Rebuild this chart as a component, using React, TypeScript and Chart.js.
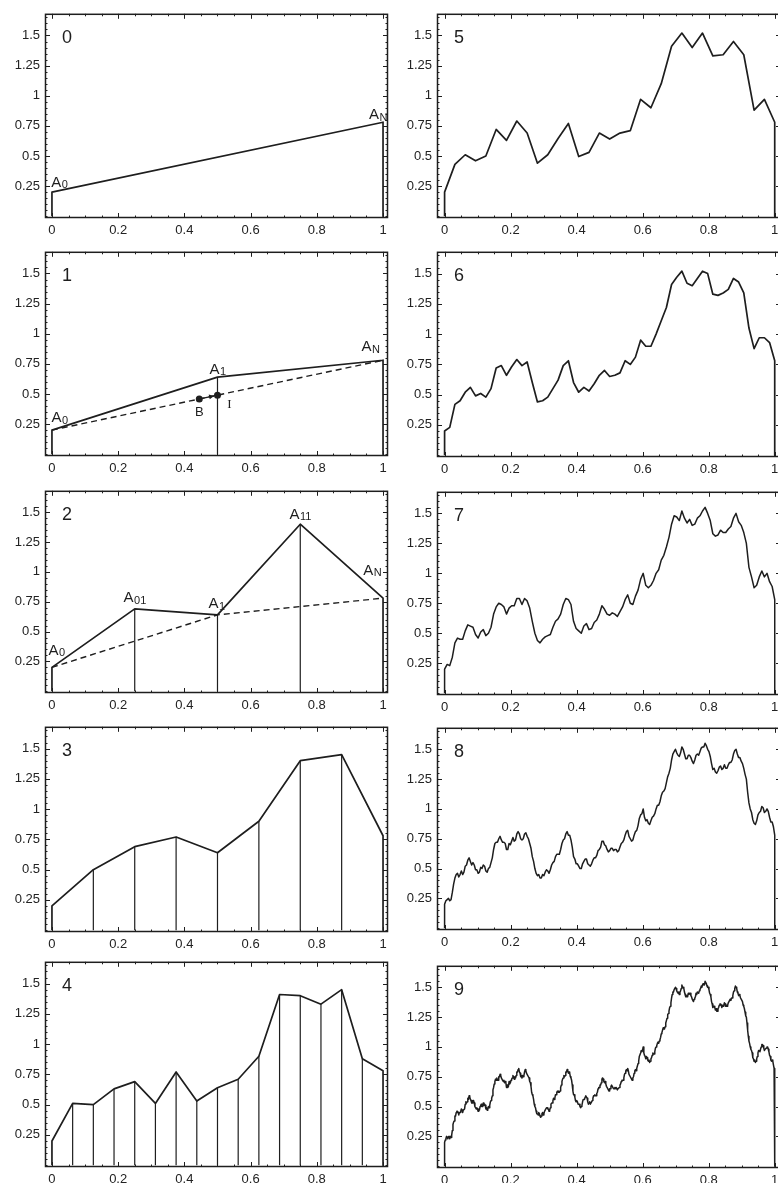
import React, { useEffect, useRef } from "react";
import { Chart, registerables } from "chart.js";

Chart.register(...registerables);

const INK = "#1e1e1e";
const SANS = '"Liberation Sans", Arial, Helvetica, sans-serif';
const SERIF = '"Liberation Serif", "Times New Roman", serif';

// Axis ticks
const xTickValues = [0, 0.2, 0.4, 0.6, 0.8, 1];
const yTickValues = [0.25, 0.5, 0.75, 1, 1.25, 1.5];

// Random midpoint displacement of a path from A0 to AN, one level per panel
const level0 = [0.2, 0.78];
const level1 = [0.2, 0.64, 0.78];
const level2 = [0.2, 0.69, 0.64, 1.4, 0.78];
const level3 = [0.2, 0.5, 0.69, 0.77, 0.64, 0.9, 1.4, 1.45, 0.78];
const level4 = [
  0.2, 0.51, 0.5, 0.63, 0.69, 0.51, 0.77, 0.53, 0.64, 0.71, 0.9, 1.41, 1.4,
  1.33, 1.45, 0.88, 0.78,
];
const level5 = [
  0.2, 0.43, 0.51, 0.46, 0.5, 0.72, 0.63, 0.79, 0.69, 0.44, 0.51, 0.645, 0.77,
  0.495, 0.53, 0.69, 0.64, 0.69, 0.71, 0.97, 0.9, 1.1, 1.41, 1.52, 1.4, 1.52,
  1.33, 1.34, 1.45, 1.34, 0.88, 0.97, 0.78,
];
const level6 = [
  0.2, 0.23, 0.42, 0.45, 0.52, 0.56, 0.49, 0.51, 0.48, 0.55, 0.72, 0.74, 0.66,
  0.73, 0.79, 0.74, 0.77, 0.6, 0.44, 0.45, 0.48, 0.55, 0.62, 0.74, 0.78, 0.6,
  0.52, 0.56, 0.53, 0.59, 0.66, 0.7, 0.65, 0.66, 0.68, 0.78, 0.75, 0.81, 0.95,
  0.9, 0.9, 1.0, 1.11, 1.22, 1.41, 1.47, 1.52, 1.42, 1.4, 1.46, 1.52, 1.5,
  1.33, 1.32, 1.34, 1.37, 1.46, 1.43, 1.34, 1.05, 0.88, 0.97, 0.97, 0.93, 0.78,
];
// New midpoints added at levels 7, 8 and 9
const level7Mid = [
  0.24, 0.3, 0.46, 0.45, 0.57, 0.55, 0.46, 0.53, 0.5, 0.66,
  0.75, 0.72, 0.71, 0.73, 0.79, 0.79, 0.71, 0.5, 0.42, 0.47,
  0.49, 0.6, 0.66, 0.79, 0.74, 0.54, 0.5, 0.58, 0.54, 0.61,
  0.73, 0.66, 0.67, 0.64, 0.72, 0.82, 0.74, 0.86, 1.0, 0.88,
  0.94, 1.03, 1.15, 1.3, 1.48, 1.44, 1.46, 1.45, 1.41, 1.48,
  1.55, 1.44, 1.31, 1.36, 1.34, 1.39, 1.5, 1.4, 1.25, 0.97,
  0.9, 1.02, 1.0, 0.89,
];
const level8Mid = [
  0.23, 0.25, 0.24, 0.37, 0.45, 0.43, 0.48, 0.47, 0.53, 0.59,
  0.53, 0.53, 0.49, 0.47, 0.5, 0.52, 0.47, 0.51, 0.59, 0.71,
  0.72, 0.77, 0.72, 0.71, 0.66, 0.7, 0.76, 0.74, 0.81, 0.75,
  0.75, 0.8, 0.75, 0.67, 0.56, 0.46, 0.45, 0.42, 0.44, 0.49,
  0.46, 0.53, 0.56, 0.62, 0.62, 0.71, 0.75, 0.81, 0.78, 0.68,
  0.58, 0.54, 0.5, 0.54, 0.58, 0.54, 0.52, 0.57, 0.59, 0.65,
  0.68, 0.73, 0.69, 0.64, 0.67, 0.65, 0.66, 0.65, 0.71, 0.74,
  0.81, 0.77, 0.73, 0.78, 0.82, 0.92, 0.96, 0.93, 0.91, 0.87,
  0.93, 0.96, 1.03, 1.06, 1.14, 1.17, 1.27, 1.34, 1.46, 1.5,
  1.45, 1.47, 1.5, 1.42, 1.45, 1.43, 1.38, 1.45, 1.45, 1.51,
  1.52, 1.53, 1.48, 1.38, 1.34, 1.3, 1.35, 1.33, 1.37, 1.34,
  1.39, 1.41, 1.49, 1.46, 1.43, 1.38, 1.29, 1.14, 1.0, 0.91,
  0.87, 0.95, 0.98, 1.01, 0.98, 0.98, 0.89, 0.85,
];
const level9Mid = [
  0.22, 0.25, 0.23, 0.25, 0.25, 0.26, 0.35, 0.38, 0.42, 0.46,
  0.45, 0.45, 0.46, 0.47, 0.47, 0.48, 0.54, 0.54, 0.56, 0.58,
  0.55, 0.53, 0.55, 0.5, 0.48, 0.48, 0.48, 0.5, 0.52, 0.5,
  0.51, 0.51, 0.49, 0.48, 0.49, 0.54, 0.57, 0.64, 0.69, 0.73,
  0.74, 0.72, 0.75, 0.76, 0.74, 0.71, 0.7, 0.7, 0.68, 0.67,
  0.69, 0.72, 0.74, 0.75, 0.75, 0.76, 0.79, 0.82, 0.78, 0.76,
  0.76, 0.76, 0.81, 0.78, 0.77, 0.74, 0.7, 0.62, 0.59, 0.52,
  0.49, 0.44, 0.43, 0.44, 0.41, 0.44, 0.43, 0.46, 0.47, 0.49,
  0.48, 0.47, 0.52, 0.53, 0.57, 0.57, 0.6, 0.63, 0.63, 0.63,
  0.68, 0.73, 0.76, 0.76, 0.79, 0.8, 0.79, 0.75, 0.72, 0.63,
  0.6, 0.55, 0.55, 0.52, 0.52, 0.49, 0.51, 0.56, 0.56, 0.59,
  0.57, 0.52, 0.54, 0.52, 0.55, 0.59, 0.6, 0.59, 0.62, 0.66,
  0.68, 0.7, 0.74, 0.71, 0.71, 0.67, 0.66, 0.63, 0.65, 0.68,
  0.67, 0.65, 0.65, 0.66, 0.65, 0.66, 0.69, 0.72, 0.72, 0.77,
  0.8, 0.8, 0.8, 0.77, 0.75, 0.72, 0.75, 0.8, 0.8, 0.84,
  0.88, 0.92, 0.97, 0.97, 0.95, 0.92, 0.92, 0.89, 0.89, 0.88,
  0.91, 0.95, 0.94, 0.99, 1.01, 1.04, 1.05, 1.08, 1.12, 1.16,
  1.15, 1.2, 1.24, 1.28, 1.33, 1.37, 1.44, 1.46, 1.48, 1.49,
  1.46, 1.46, 1.46, 1.49, 1.5, 1.49, 1.44, 1.43, 1.43, 1.44,
  1.45, 1.42, 1.4, 1.4, 1.42, 1.44, 1.46, 1.47, 1.49, 1.5,
  1.53, 1.52, 1.55, 1.51, 1.5, 1.45, 1.42, 1.36, 1.34, 1.33,
  1.32, 1.3, 1.33, 1.36, 1.35, 1.35, 1.35, 1.36, 1.35, 1.35,
  1.37, 1.4, 1.41, 1.43, 1.47, 1.51, 1.49, 1.45, 1.44, 1.41,
  1.4, 1.35, 1.32, 1.26, 1.2, 1.09, 1.03, 0.98, 0.95, 0.9,
  0.89, 0.88, 0.92, 0.97, 0.96, 1.0, 1.02, 0.99, 0.98, 0.99,
  1.0, 0.96, 0.92, 0.88, 0.88, 0.82,
];

// Each finer level keeps the previous nodes and inserts the new midpoints
function interleave(coarse: number[], mids: number[]): number[] {
  const out: number[] = [];
  coarse.forEach((v, i) => {
    out.push(v);
    if (i < mids.length) out.push(mids[i]);
  });
  return out;
}
const level7 = interleave(level6, level7Mid);
const level8 = interleave(level7, level8Mid);
const level9 = interleave(level8, level9Mid);

// Point B displaced towards the midpoint I of the chord A0-AN
const pointB = { x: 0.445, y: 0.458 };
const pointI = { x: 0.5, y: 0.49 };

type Label = { main: string; sub?: string; x: number; y: number; serif?: boolean; small?: boolean };

const labelsPanel0: Label[] = [
  { main: "A", sub: "0", x: 0.022, y: 0.28 },
  { main: "A", sub: "N", x: 0.985, y: 0.84 },
];
const labelsPanel1: Label[] = [
  { main: "A", sub: "0", x: 0.023, y: 0.3 },
  { main: "A", sub: "1", x: 0.5, y: 0.7 },
  { main: "A", sub: "N", x: 0.962, y: 0.89 },
  { main: "B", x: 0.445, y: 0.35, small: true },
  { main: "I", x: 0.536, y: 0.41, serif: true, small: true },
];
const labelsPanel2: Label[] = [
  { main: "A", sub: "0", x: 0.014, y: 0.34 },
  { main: "A", sub: "01", x: 0.25, y: 0.78 },
  { main: "A", sub: "1", x: 0.497, y: 0.73 },
  { main: "A", sub: "11", x: 0.75, y: 1.48 },
  { main: "A", sub: "N", x: 0.967, y: 1.01 },
];

type PanelSpec = {
  n: string;
  col: 0 | 1;
  top: number;
  bottom: number;
  values: number[];
  nodes?: boolean;
  guide?: number[];
  labels?: Label[];
  marks?: boolean;
};

const panelSpecs: PanelSpec[] = [
  { n: "0", col: 0, top: 5, bottom: 218, values: level0, nodes: true, labels: labelsPanel0 },
  { n: "1", col: 0, top: 243, bottom: 456, values: level1, nodes: true, guide: level0, labels: labelsPanel1, marks: true },
  { n: "2", col: 0, top: 482, bottom: 693, values: level2, nodes: true, guide: level1, labels: labelsPanel2 },
  { n: "3", col: 0, top: 718, bottom: 932, values: level3, nodes: true },
  { n: "4", col: 0, top: 953, bottom: 1167, values: level4, nodes: true },
  { n: "5", col: 1, top: 5, bottom: 218, values: level5 },
  { n: "6", col: 1, top: 243, bottom: 457, values: level6 },
  { n: "7", col: 1, top: 483, bottom: 695, values: level7 },
  { n: "8", col: 1, top: 719, bottom: 930, values: level8 },
  { n: "9", col: 1, top: 957, bottom: 1168, values: level9 },
];

const COLS = [
  { left: 0, width: 392, padRight: 4, xMin: -0.021, xMax: 1.015 },
  { left: 392, width: 392, padRight: 3, xMin: -0.023, xMax: 1.019 },
];
const Y_MIN = -0.015;
const Y_MAX = 1.68;
const AXIS_W = 45;
const AXIS_H = 24;
const PAD_TOP = 4;

const toPoints = (values: number[]) =>
  values.map((y, i) => ({ x: i / (values.length - 1), y }));

const range = (a: number, b: number, step: number) => {
  const out: number[] = [];
  for (let k = 0; a + k * step <= b + 1e-9; k++) out.push(+(a + k * step).toFixed(4));
  return out;
};
const xMinor = range(0, 1, 0.05);
const yMinor = range(0, 1.65, 0.05);

function drawLabel(ctx: CanvasRenderingContext2D, cx: number, cy: number, l: Label) {
  const mainFont = `${l.small ? 13 : 15}px ${l.serif ? SERIF : SANS}`;
  const subFont = `11px ${SANS}`;
  ctx.font = mainFont;
  const wMain = ctx.measureText(l.main).width;
  ctx.font = subFont;
  const wSub = l.sub ? ctx.measureText(l.sub).width : 0;
  const left = cx - (wMain + wSub) / 2;
  ctx.textAlign = "left";
  ctx.textBaseline = "middle";
  ctx.font = mainFont;
  ctx.fillText(l.main, left, cy);
  if (l.sub) {
    ctx.font = subFont;
    ctx.fillText(l.sub, left + wMain + 0.5, cy + 2.5);
  }
}

function decorPlugin(spec: PanelSpec) {
  return {
    id: "panelDecor",
    afterDatasetsDraw(chart: any) {
      const { ctx, chartArea: a, scales } = chart;
      const xs = scales.x;
      const ys = scales.y;
      ctx.save();
      ctx.strokeStyle = INK;
      ctx.fillStyle = INK;

      // frame
      ctx.lineWidth = 1.5;
      ctx.strokeRect(a.left + 0.5, a.top + 0.5, a.right - a.left - 1, a.bottom - a.top - 1);

      // inward ticks on all four sides
      ctx.lineWidth = 1;
      ctx.beginPath();
      xMinor.forEach((v) => {
        const major = xTickValues.some((m) => Math.abs(m - v) < 1e-6);
        const len = major ? 5 : 2.5;
        const px = Math.round(xs.getPixelForValue(v)) + 0.5;
        ctx.moveTo(px, a.bottom);
        ctx.lineTo(px, a.bottom - len);
        ctx.moveTo(px, a.top);
        ctx.lineTo(px, a.top + len);
      });
      yMinor.forEach((v) => {
        const major = yTickValues.some((m) => Math.abs(m - v) < 1e-6);
        const len = major ? 5 : 2.5;
        const py = Math.round(ys.getPixelForValue(v)) + 0.5;
        ctx.moveTo(a.left, py);
        ctx.lineTo(a.left + len, py);
        ctx.moveTo(a.right, py);
        ctx.lineTo(a.right - len, py);
      });
      ctx.stroke();

      // panel number
      ctx.font = `18px ${SANS}`;
      ctx.textAlign = "center";
      ctx.textBaseline = "middle";
      ctx.fillText(spec.n, a.left + 22, a.top + 24);

      // arrow from B to I
      if (spec.marks) {
        const bx = xs.getPixelForValue(pointB.x);
        const by = ys.getPixelForValue(pointB.y);
        const ix = xs.getPixelForValue(pointI.x);
        const iy = ys.getPixelForValue(pointI.y);
        const ang = Math.atan2(iy - by, ix - bx);
        const ex = ix - Math.cos(ang) * 3.5;
        const ey = iy - Math.sin(ang) * 3.5;
        ctx.lineWidth = 1.3;
        ctx.beginPath();
        ctx.moveTo(bx + Math.cos(ang) * 3, by + Math.sin(ang) * 3);
        ctx.lineTo(ex, ey);
        ctx.stroke();
        ctx.beginPath();
        ctx.moveTo(ex, ey);
        ctx.lineTo(ex - 5.5 * Math.cos(ang - 0.45), ey - 5.5 * Math.sin(ang - 0.45));
        ctx.lineTo(ex - 5.5 * Math.cos(ang + 0.45), ey - 5.5 * Math.sin(ang + 0.45));
        ctx.closePath();
        ctx.fill();
      }

      // vertex labels
      (spec.labels || []).forEach((l) => {
        drawLabel(ctx, xs.getPixelForValue(l.x), ys.getPixelForValue(l.y), l);
      });
      ctx.restore();
    },
  };
}

function buildDatasets(spec: PanelSpec) {
  const pts = toPoints(spec.values);
  const sets: any[] = [];
  const base = {
    showLine: true,
    pointRadius: 0,
    borderColor: INK,
    tension: 0,
    fill: false,
    borderJoinStyle: "round",
  };
  if (spec.guide) {
    sets.push({ ...base, data: toPoints(spec.guide), borderWidth: 1.4, borderDash: [6, 4] });
  }
  if (spec.nodes) {
    pts.slice(1, -1).forEach((p) => {
      sets.push({ ...base, data: [{ x: p.x, y: 0 }, p], borderWidth: 1.2 });
    });
  }
  sets.push({
    ...base,
    data: [{ x: 0, y: 0 }, ...pts, { x: 1, y: 0 }],
    borderWidth: spec.values.length > 100 ? 1.5 : 1.7,
  });
  if (spec.marks) {
    sets.push({
      data: [pointB, pointI],
      showLine: false,
      pointRadius: 3.5,
      pointBackgroundColor: INK,
      pointBorderColor: INK,
      pointBorderWidth: 0,
    });
  }
  return sets;
}

function Panel({ spec }: { spec: PanelSpec }) {
  const ref = useRef<HTMLCanvasElement | null>(null);
  const col = COLS[spec.col];
  const height = spec.bottom - spec.top + PAD_TOP + AXIS_H;

  useEffect(() => {
    if (!ref.current) return;
    const tickFont = { family: SANS, size: 13 };
    const chart = new Chart(ref.current, {
      type: "scatter",
      data: { datasets: buildDatasets(spec) },
      options: {
        responsive: false,
        animation: false,
        devicePixelRatio: 1,
        events: [],
        layout: { padding: { top: PAD_TOP, right: col.padRight, left: 0, bottom: 0 } },
        plugins: { legend: { display: false }, tooltip: { enabled: false } },
        scales: {
          x: {
            type: "linear",
            min: col.xMin,
            max: col.xMax,
            grid: { display: false, drawTicks: false },
            border: { display: false },
            ticks: {
              padding: 5,
              color: "#222222",
              font: tickFont,
              maxRotation: 0,
              autoSkip: false,
              callback: (v: any) => String(v),
            },
            afterBuildTicks: (s: any) => {
              s.ticks = xTickValues.map((value) => ({ value }));
            },
            afterFit: (s: any) => {
              s.height = AXIS_H;
            },
          },
          y: {
            type: "linear",
            min: Y_MIN,
            max: Y_MAX,
            grid: { display: false, drawTicks: false },
            border: { display: false },
            ticks: {
              padding: 5,
              color: "#222222",
              font: tickFont,
              autoSkip: false,
              callback: (v: any) => String(v),
            },
            afterBuildTicks: (s: any) => {
              s.ticks = yTickValues.map((value) => ({ value }));
            },
            afterFit: (s: any) => {
              s.width = AXIS_W;
            },
          },
        },
      } as any,
      plugins: [decorPlugin(spec)],
    });
    return () => chart.destroy();
  }, []);

  return (
    <canvas
      ref={ref}
      width={col.width}
      height={height}
      style={{
        position: "absolute",
        left: col.left,
        top: spec.top - PAD_TOP,
        width: col.width,
        height,
        display: "block",
      }}
    />
  );
}

export default function App() {
  return (
    <div
      style={{
        position: "fixed",
        left: 0,
        top: 0,
        width: 778,
        height: 1183,
        overflow: "hidden",
        background: "#ffffff",
      }}
    >
      {panelSpecs.map((p) => (
        <Panel key={p.n} spec={p} />
      ))}
    </div>
  );
}
